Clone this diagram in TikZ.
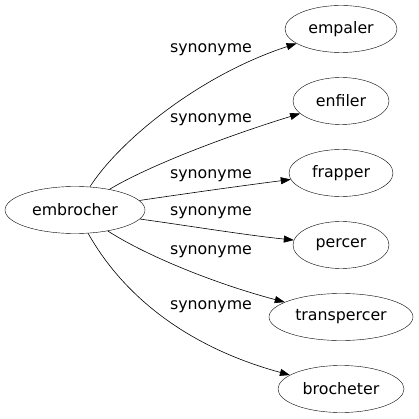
\documentclass[tikz,border=0pt]{standalone}
\usepackage{fontspec}
\setmainfont{DejaVu Sans}
\usetikzlibrary{shapes.geometric,arrows.meta}
\begin{document}
\begin{tikzpicture}[x=1pt,y=-1pt,
  word/.style={draw,ellipse,inner sep=0pt,minimum height=47pt,font=\fontsize{15.8}{18}\selectfont},
  lbl/.style={inner sep=0pt,font=\fontsize{15.8}{18}\selectfont},
  syn/.style={-{Triangle[length=10pt,width=7pt]},line width=0.6pt}]
\useasboundingbox (0,0) rectangle (419,419);
\node[word,minimum width=140pt] (embrocher) at (75,210) {embrocher};
\node[word,minimum width=112pt] (empaler) at (341,29) {empaler};
\node[word,minimum width=96pt] (enfiler) at (341,101) {enfiler};
\node[word,minimum width=104pt] (frapper) at (341,173) {frapper};
\node[word,minimum width=96pt] (percer) at (341,245) {percer};
\node[word,minimum width=144pt] (transpercer) at (341,317) {transpercer};
\node[word,minimum width=126pt] (brocheter) at (341,389) {brocheter};
\node[lbl] (l1) at (211,50) {synonyme};
\node[lbl] (l2) at (211,120) {synonyme};
\node[lbl] (l3) at (211,176) {synonyme};
\node[lbl] (l4) at (211,213) {synonyme};
\node[lbl] (l5) at (211,252) {synonyme};
\node[lbl] (l6) at (211,307) {synonyme};
\draw[syn] (embrocher) .. controls (120,140) and (200,75) .. (empaler);
\draw[syn] (embrocher) .. controls (150,165) and (230,135) .. (enfiler);
\draw[syn] (embrocher) .. controls (190,193) and (240,186) .. (frapper);
\draw[syn] (embrocher) .. controls (190,226) and (245,235) .. (percer);
\draw[syn] (embrocher) .. controls (150,258) and (220,285) .. (transpercer);
\draw[syn] (embrocher) .. controls (120,290) and (180,345) .. (brocheter);
\end{tikzpicture}
\end{document}
